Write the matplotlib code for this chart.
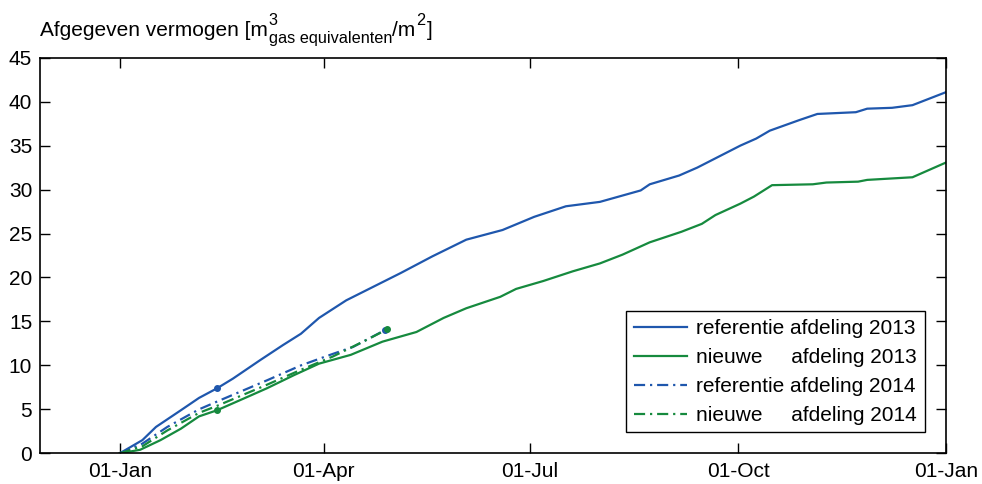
import numpy as np
import matplotlib
matplotlib.use("Agg")
import matplotlib.pyplot as plt

plt.rcParams['font.family'] = ['Liberation Sans', 'DejaVu Sans']

# day-of-year (0 = 01-Jan) and cumulative values
ref13_day = [0, 10, 16, 27, 35, 43, 50, 62, 72, 80, 88, 100, 124, 138, 153, 169, 183, 197,
             212, 230, 234, 247, 255, 274, 281, 287, 300, 308, 325, 330, 341, 350, 365]
ref13_val = [0, 1.5, 3.0, 4.9, 6.3, 7.4, 8.5, 10.6, 12.3, 13.6, 15.4, 17.4, 20.5, 22.4, 24.3,
             25.4, 26.9, 28.1, 28.6, 29.9, 30.6, 31.6, 32.5, 35.0, 35.8, 36.7, 37.9, 38.6,
             38.8, 39.2, 39.3, 39.6, 41.1]

new13_day = [0, 9, 18, 27, 35, 43, 58, 65, 77, 88, 102, 116, 131, 143, 153, 168, 175, 187,
             200, 212, 222, 234, 248, 257, 263, 274, 280, 288, 306, 312, 326, 330, 350, 365]
new13_val = [0, 0.4, 1.5, 2.8, 4.2, 4.9, 6.6, 7.4, 8.9, 10.2, 11.2, 12.7, 13.8, 15.4, 16.5,
             17.8, 18.7, 19.6, 20.7, 21.6, 22.6, 24.0, 25.2, 26.1, 27.1, 28.4, 29.2, 30.5,
             30.6, 30.8, 30.9, 31.1, 31.4, 33.1]

ref14_day = [0, 10, 21, 35, 44, 65, 80, 94, 103, 117]
ref14_val = [0, 1.1, 3.0, 5.0, 6.0, 8.3, 10.0, 11.3, 12.1, 14.0]

new14_day = [0, 10, 21, 35, 43, 65, 80, 94, 109, 118]
new14_val = [0, 0.8, 2.6, 4.6, 5.4, 7.8, 9.5, 11.0, 12.9, 14.1]

# dot markers
ref_dot_day = [43, 117]
ref_dot_val = [7.4, 14.0]
new_dot_day = [43, 118]
new_dot_val = [4.9, 14.1]

tick_days = [0, 90, 181, 273, 365]
tick_labels = ['01-Jan', '01-Apr', '01-Jul', '01-Oct', '01-Jan']
labels = ['referentie afdeling 2013', 'nieuwe     afdeling 2013',
          'referentie afdeling 2014', 'nieuwe     afdeling 2014']

blue = '#1F57AD'
green = '#168A3E'
dashdot = (0, (5, 2.2, 1, 2.2))

W, H = 982, 484
fig = plt.figure(figsize=(W / 100, H / 100), dpi=100)
ax = fig.add_axes([0.0412, 0.0634, 0.9226, 0.8174])

ax.plot(ref13_day, ref13_val, color=blue, lw=1.6, label=labels[0])
ax.plot(new13_day, new13_val, color=green, lw=1.6, label=labels[1])
ax.plot(ref14_day, ref14_val, color=blue, lw=1.6, ls=dashdot, label=labels[2])
ax.plot(new14_day, new14_val, color=green, lw=1.6, ls=dashdot, label=labels[3])
ax.plot(ref_dot_day, ref_dot_val, 'o', color=blue, ms=4)
ax.plot(new_dot_day, new_dot_val, 'o', color=green, ms=4)

ax.set_xlim(-35, 365)
ax.set_ylim(0, 45)
ax.set_xticks(tick_days)
ax.set_xticklabels(tick_labels)
ax.set_yticks(np.arange(0, 46, 5))
ax.tick_params(direction='in', length=7, width=1, top=True, right=True,
               labelsize=15, pad=6)
for s in ax.spines.values():
    s.set_linewidth(1.2)

leg = ax.legend(loc='lower right', bbox_to_anchor=(0.976, 0.053), fontsize=15,
                frameon=True, fancybox=False, edgecolor='black', framealpha=1,
                handlelength=2.55, handletextpad=0.45, labelspacing=0.48,
                borderpad=0.36, borderaxespad=0)
leg.get_frame().set_linewidth(1.0)

# title with stacked super/subscript, built piece by piece
renderer = fig.canvas.get_renderer()
base = H - 36


def put(x, s, size, dy):
    t = fig.text(x / W, (base + dy) / H, s, fontsize=size, ha='left', va='baseline')
    return t.get_window_extent(renderer).x1


x = put(40, 'Afgegeven vermogen [m', 15, 0)
x_sup = put(x + 1, '3', 11.7, 11)
x_sub = put(x + 1, 'gas equivalenten', 11.7, -7)
x = put(max(x_sup, x_sub), '/m', 15, 0)
x = put(x + 1, '2', 11.7, 11)
put(x + 1, ']', 15, 0)

fig.savefig('out.png', dpi=100)
